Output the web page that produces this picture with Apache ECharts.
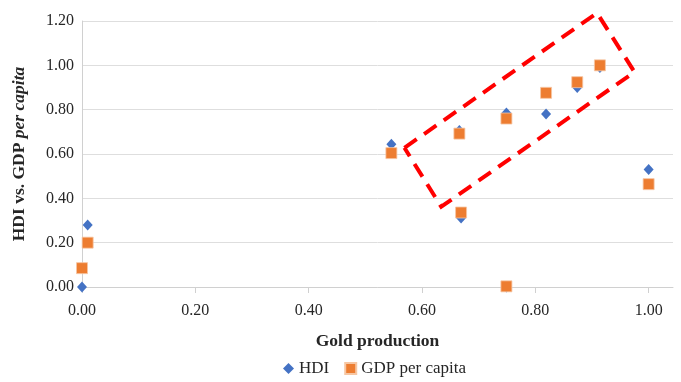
<!DOCTYPE html>
<html>
<head>
<meta charset="utf-8">
<script src="https://cdn.jsdelivr.net/npm/echarts@6/dist/echarts.min.js"></script>
<style>
  html, body { margin: 0; padding: 0; background: #fff; }
  #chart { width: 681px; height: 382px; }
</style>
</head>
<body>
<div id="chart"></div>
<script>
// Normalised gold production (x) with HDI and GDP per capita (y)
const goldProduction = [0, 0.01, 0.546, 0.666, 0.669, 0.749, 0.749, 0.819, 0.874, 0.914, 1.0];
const hdiValues      = [0, 0.28, 0.644, 0.706, 0.311, 0.785, 0, 0.78, 0.90, 0.99, 0.53];
const gdpValues      = [0.085, 0.20, 0.604, 0.692, 0.336, 0.76, 0.003, 0.876, 0.924, 1.0, 0.464];
const xTickValues    = [0, 0.2, 0.4, 0.6, 0.8, 1.0];

// Corners of the dashed highlight box (left, top, right, bottom, back to left)
const boxX = [0.569, 0.909, 0.975, 0.634, 0.569];
const boxY = [0.628, 1.236, 0.970, 0.362, 0.628];

const pair = (xs, ys) => xs.map((x, i) => [x, ys[i]]);

const FONT = '"Liberation Serif", "DejaVu Serif", serif';
const TXT = '#262626';

const chart = echarts.init(document.getElementById('chart'), null, { renderer: 'canvas' });
chart.setOption({
  backgroundColor: '#ffffff',
  animation: false,
  textStyle: { fontFamily: FONT },
  grid: { left: 82, right: 8, top: 21, bottom: 95, containLabel: false, outerBoundsMode: 'none' },
  legend: {
    bottom: 0,
    left: 278,
    itemGap: 15,
    itemWidth: 11,
    itemHeight: 11,
    data: [
      { name: 'HDI', icon: 'diamond' },
      { name: 'GDP per capita', icon: 'rect' }
    ],
    textStyle: { fontFamily: FONT, fontSize: 17, color: TXT }
  },
  xAxis: {
    type: 'value',
    min: 0,
    max: 1.043,
    interval: 0.2,
    name: 'Gold production',
    nameLocation: 'middle',
    nameGap: 45,
    nameTextStyle: { fontFamily: FONT, fontSize: 17.5, fontWeight: 'bold', color: TXT },
    axisLine: { show: true, lineStyle: { color: '#d0d0d0', width: 1 } },
    axisTick: { show: true, length: 6, customValues: xTickValues, lineStyle: { color: '#d0d0d0' } },
    axisLabel: {
      customValues: xTickValues,
      margin: 16,
      fontFamily: FONT, fontSize: 16, color: TXT,
      formatter: v => v.toFixed(2)
    },
    splitLine: { show: false }
  },
  yAxis: {
    type: 'value',
    min: 0,
    max: 1.2,
    interval: 0.2,
    name: '{b|HDI vs. GDP }{i|per capita}',
    nameLocation: 'middle',
    nameRotate: 90,
    nameGap: 54,
    nameTextStyle: {
      rich: {
        b: { fontFamily: FONT, fontSize: 17.5, fontWeight: 'bold', color: TXT },
        i: { fontFamily: FONT, fontSize: 17.5, fontWeight: 'bold', fontStyle: 'italic', color: TXT }
      }
    },
    axisLine: { show: true, lineStyle: { color: '#d0d0d0', width: 1 } },
    axisTick: { show: false },
    axisLabel: {
      margin: 8,
      fontFamily: FONT, fontSize: 16, color: TXT,
      formatter: v => v.toFixed(2)
    },
    splitLine: { show: true, lineStyle: { color: '#dedede', width: 1 } }
  },
  series: [
    {
      name: 'HDI',
      type: 'scatter',
      symbol: 'diamond',
      symbolSize: [10, 11],
      itemStyle: { color: '#4472C4', opacity: 1 },
      data: pair(goldProduction, hdiValues),
      z: 2
    },
    {
      name: 'GDP per capita',
      type: 'scatter',
      symbol: 'rect',
      symbolSize: 11,
      itemStyle: { color: '#ED7D31', opacity: 1, borderColor: '#F6C7A4', borderWidth: 0.8 },
      data: pair(goldProduction, gdpValues),
      z: 3
    },
    {
      name: 'Highlight',
      type: 'line',
      data: pair(boxX, boxY),
      symbol: 'none',
      silent: true,
      clip: false,
      lineStyle: { color: '#FF0000', width: 4, type: [15, 9], cap: 'butt', join: 'miter' },
      z: 4
    }
  ]
});
</script>
</body>
</html>
